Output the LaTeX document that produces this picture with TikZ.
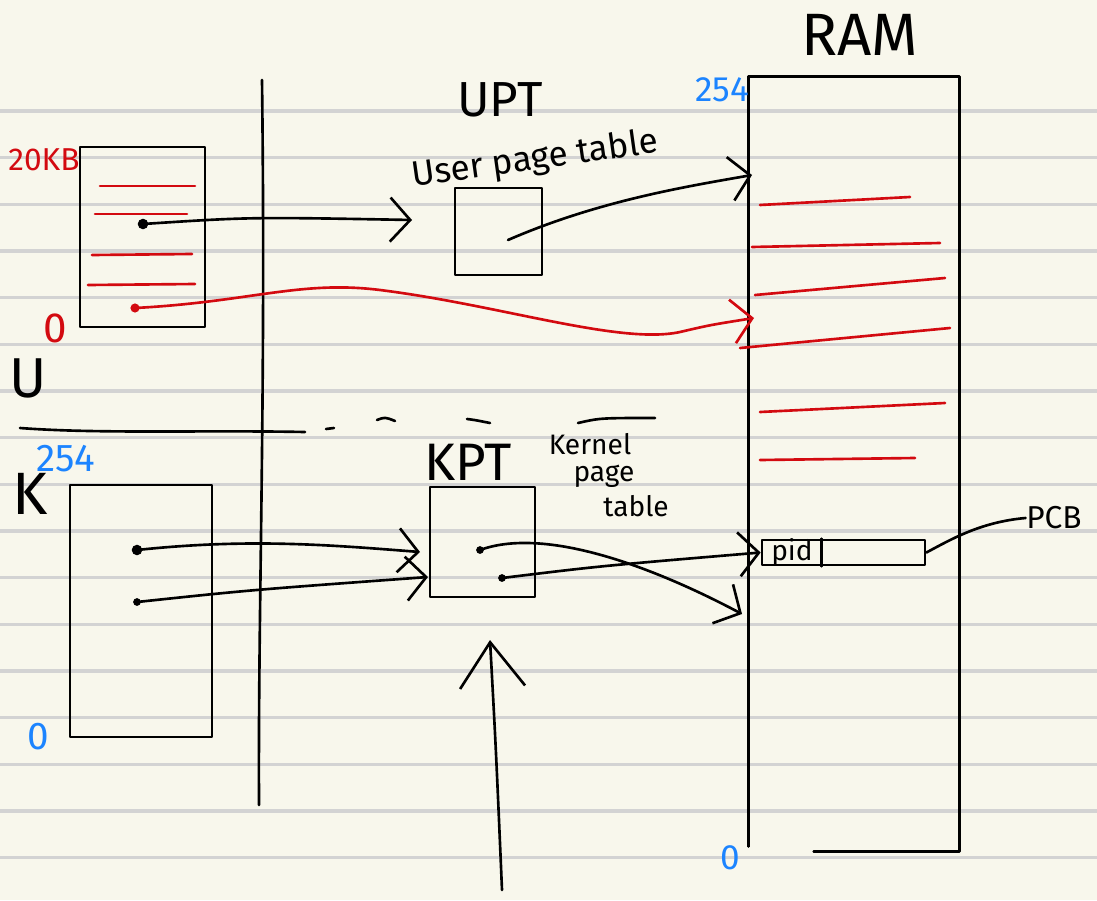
\documentclass[tikz,border=0pt]{standalone}
\usepackage{fontspec}
\setmainfont{Fira Sans}
\usepackage{tikz}
\usetikzlibrary{arrows.meta,positioning,calc}
\definecolor{paper}{HTML}{F8F7EC}
\definecolor{ruling}{HTML}{D3D3D3}
\definecolor{inkred}{HTML}{D30A10}
\definecolor{inkblue}{HTML}{1C84FF}

\begin{document}
\begin{tikzpicture}[x=0.01cm, y=-0.01cm,
        ink/.style={line width=0.75pt, line cap=round, line join=round},
        redink/.style={ink, draw=inkred},
        barb/.style={-{Straight Barb[length=2mm,width=4.4mm]}},
        box/.style={draw, ink, rectangle, inner sep=0pt},
        note/.style={inner sep=0pt, font=\fontsize{#1}{#1}\selectfont},
        note/.default=11,
        ]
        \fill[paper] (0,0) rectangle (1097,900);
        \useasboundingbox (0,0) rectangle (1097,900);
        \foreach \k in {0,...,16}
            \draw[ruling, line width=0.9pt] (0,{111+46.67*\k}) -- (1097,{111+46.67*\k});

        \draw[ink] (262,80) .. controls (266,400) and (258,600) .. (259,805);
        \draw[ink] (20,428) .. controls (100,434) and (200,430) .. (305,432);
        \draw[ink] (326,429) -- (334,428);
        \draw[ink] (377,420) .. controls (385,417) .. (395,421);
        \draw[ink] (467,419) .. controls (475,420) .. (490,423);
        \draw[ink] (578,423) .. controls (600,418) .. (655,418);

        \node[note=16] (ulabel) at (28,378) {U};
        \node[note=17] (klabel) at (30,494) {K};

        \node[box, minimum width=1.25cm, minimum height=1.8cm] (ubox) at (142.5,237) {};
        \node[note=9, text=inkred] (utop) at (44,160) {20KB};
        \node[note=12, text=inkred] (ubottom) at (55,328) {0};
        \draw[redink] (100,186) -- (195,186);
        \draw[redink] (95,214) -- (187,214);
        \draw[redink] (92,255) -- (192,254);
        \draw[redink] (88,285) -- (195,284);

        \node[box, minimum width=1.42cm, minimum height=2.52cm] (kbox) at (141,611) {};
        \node[note=11, text=inkblue] (ktop) at (66,459) {254};
        \node[note=11, text=inkblue] (kbottom) at (38,737) {0};

        \node[note=14] (upttitle) at (500,100) {UPT};
        \node[note=10, rotate=8] (uptnote) at (535,160) {User page table};
        \node[box, minimum width=0.87cm, minimum height=0.87cm] (upt) at (498.5,231.5) {};

        \node[note=15] (kpttitle) at (468,462) {KPT};
        \node[note=8] (kptnotea) at (590,444) {Kernel};
        \node[note=8] (kptnoteb) at (604,476) {page};
        \node[note=8] (kptnotec) at (636,506) {table};
        \node[box, minimum width=1.05cm, minimum height=1.1cm] (kpt) at (482.5,542) {};

        \node[note=17] (ramtitle) at (860,35) {RAM};
        \node[box, draw=none, minimum width=2.08cm, minimum height=7.72cm] (ram) at (854,464) {};
        \draw[ink] ($(ram.south west)+(0,-5)$) -- (ram.north west) -- (ram.north east)
            -- (ram.south east) -- ($(ram.south west)+(65,0)$);
        \node[note=10, text=inkblue] (ramtop) at (722,90) {254};
        \node[note=10, text=inkblue] (rambottom) at (730,858) {0};
        \draw[redink] (760,205) -- (910,197);
        \draw[redink] (752,247) -- (940,243);
        \draw[redink] (755,295) -- (945,278);
        \draw[redink] (740,348) -- (950,328);
        \draw[redink] (760,412) -- (945,403);
        \draw[redink] (760,460) -- (915,458);

        \node[box, minimum width=1.63cm, minimum height=0.25cm] (pcb) at (843.5,552.5) {};
        \draw[ink] ($(pcb.north west)+(61,0)$) -- ($(pcb.south west)+(61,0)$);
        \node[note=8] (pid) at (792,553) {pid};
        \node[note=9] (pcbnote) at (1054,518) {PCB};
        \draw[ink] (pcbnote.west) .. controls (980,522) and (950,540) .. (pcb.east);

        \coordinate (usrc) at (143,224);
        \coordinate (uptin) at (412,220);
        \coordinate (uptsrc) at (508,240);
        \coordinate (ramin) at (752,175);
        \coordinate (redsrc) at (135,308);
        \coordinate (redin) at (754,318);
        \coordinate (ksrca) at (137,550);
        \coordinate (kptina) at (420,552);
        \coordinate (ksrcb) at (137,602);
        \coordinate (kptinb) at (428,577);
        \coordinate (kptsrca) at (480,550);
        \coordinate (ramhook) at (742,614);
        \coordinate (kptsrcb) at (502,578);
        \coordinate (pcbin) at (pcb.west);
        \coordinate (below) at (502,890);
        \coordinate (kptup) at (490,640);

        \fill (usrc) circle[radius=1.5pt];
        \fill[inkred] (redsrc) circle[radius=1.3pt];
        \fill (ksrca) circle[radius=1.5pt];
        \fill (ksrcb) circle[radius=1.1pt];
        \fill (kptsrca) circle[radius=1.1pt];
        \fill (kptsrcb) circle[radius=1.1pt];

        \draw[ink, barb] (usrc) .. controls (250,217) .. (uptin);
        \draw[ink, barb] (uptsrc) .. controls (600,200) and (690,186) .. (ramin);
        \draw[redink, barb] (redsrc) .. controls (250,302) and (300,280) .. (380,290)
            .. controls (500,305) and (620,345) .. (680,332) .. controls (710,325) .. (redin);
        \draw[ink, barb] (ksrca) .. controls (250,538) and (330,545) .. (kptina);
        \draw[ink, barb] (ksrcb) .. controls (250,590) .. (kptinb);
        \draw[ink, barb] (kptsrca) .. controls (540,528) and (640,560) .. (ramhook);
        \draw[ink, barb] (kptsrcb) .. controls (600,566) .. (pcbin);
        \draw[ink, -{Straight Barb[length=4.5mm,width=6.5mm]}] (below) .. controls (496,750) .. (kptup);
    \end{tikzpicture}
\end{document}
